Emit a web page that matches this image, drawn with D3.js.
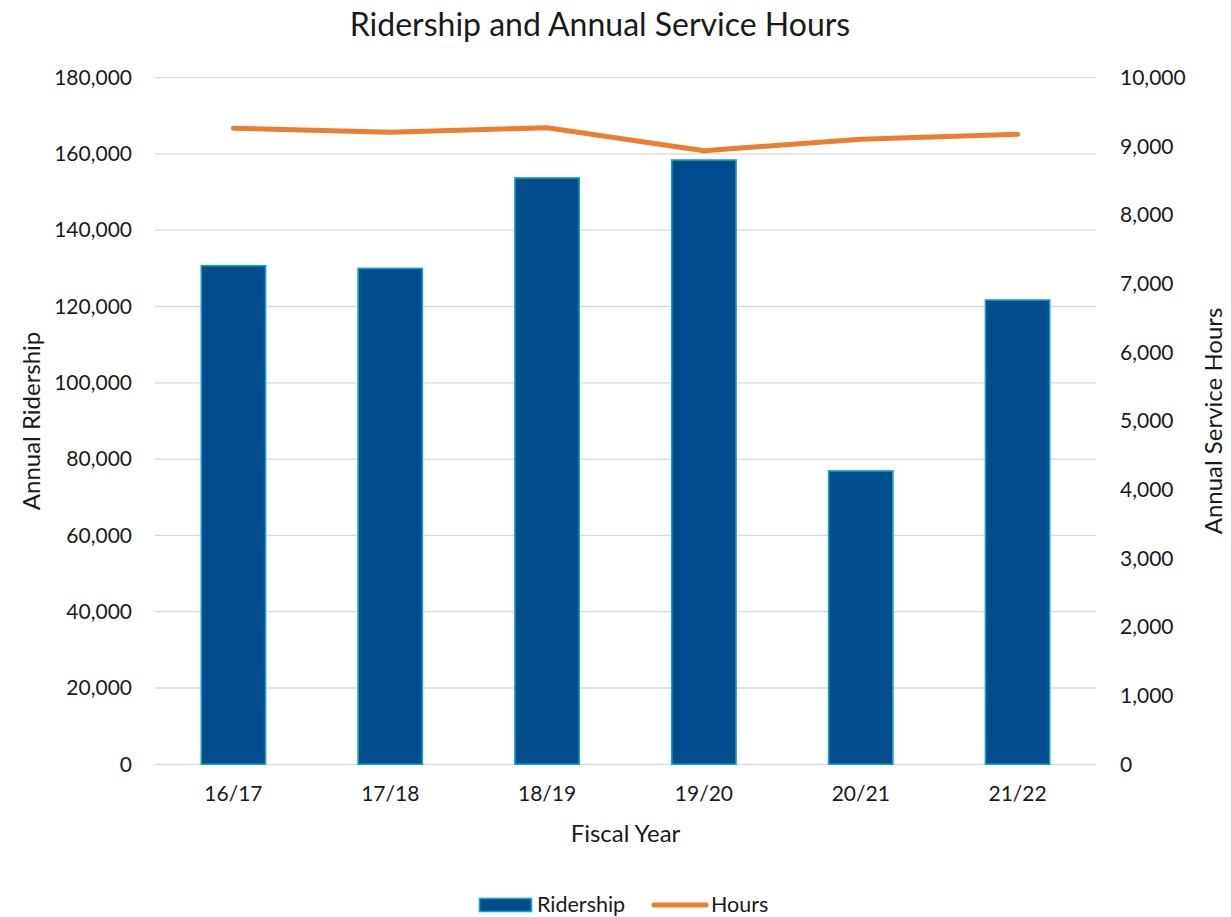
<!DOCTYPE html>
<html>
<head>
<meta charset="utf-8">
<script src="https://cdn.jsdelivr.net/npm/d3@7"></script>
<style>
  html, body { margin: 0; padding: 0; background: #fff; }
  svg text { font-family: Lato, "Open Sans", sans-serif; fill: #1a1a1a; }
</style>
</head>
<body>
<svg id="chart" width="1231" height="917"></svg>
<script>
// Fiscal years and the two series
const years = ["16/17", "17/18", "18/19", "19/20", "20/21", "21/22"];
const ridership = [130700, 130000, 153700, 158400, 76900, 121700];
const hours = [9262, 9203, 9270, 8936, 9101, 9174];

// Axis ticks
const ridershipTicks = [0, 20000, 40000, 60000, 80000, 100000, 120000, 140000, 160000, 180000];
const hoursTicks = [0, 1000, 2000, 3000, 4000, 5000, 6000, 7000, 8000, 9000, 10000];

const svg = d3.select("#chart");
const plot = { left: 155, right: 1096, top: 77.6, bottom: 764.3 };
const tickFont = 21;

const x = d3.scaleBand().domain(years).range([plot.left, plot.right]).paddingInner(0.59).paddingOuter(0.295);
const yL = d3.scaleLinear().domain([0, 180000]).range([plot.bottom, plot.top]);
const yR = d3.scaleLinear().domain([0, 10000]).range([plot.bottom, plot.top]);
const fmt = d3.format(",");

// Gridlines
svg.append("g")
  .selectAll("line")
  .data(ridershipTicks)
  .join("line")
  .attr("x1", plot.left).attr("x2", plot.right)
  .attr("y1", d => yL(d)).attr("y2", d => yL(d))
  .attr("stroke", "#d9d9d9").attr("stroke-width", 1.3);

function styleTicks(g) {
  g.select(".domain").remove();
  g.selectAll("text")
    .attr("font-size", tickFont)
    .attr("font-family", "Lato, sans-serif")
    .attr("fill", "#1a1a1a");
}

// Left axis
svg.append("g")
  .attr("transform", `translate(${plot.left},0)`)
  .call(d3.axisLeft(yL).tickValues(ridershipTicks).tickFormat(fmt).tickSize(0).tickPadding(23))
  .call(styleTicks);

// Right axis
svg.append("g")
  .attr("transform", `translate(${plot.right},0)`)
  .call(d3.axisRight(yR).tickValues(hoursTicks).tickFormat(fmt).tickSize(0).tickPadding(24))
  .call(styleTicks);

// Bottom axis
svg.append("g")
  .attr("transform", `translate(0,${plot.bottom})`)
  .call(d3.axisBottom(x).tickSize(0).tickPadding(22))
  .call(styleTicks);

// Ridership bars
svg.append("g")
  .selectAll("rect")
  .data(years.map((y, i) => ({ year: y, value: ridership[i] })))
  .join("rect")
  .attr("x", d => x(d.year))
  .attr("y", d => yL(d.value))
  .attr("width", x.bandwidth())
  .attr("height", d => yL(0) - yL(d.value))
  .attr("fill", "#004c8c")
  .attr("stroke", "#17a2c6")
  .attr("stroke-width", 1.6);

// Hours line
const line = d3.line()
  .x((d, i) => x(years[i]) + x.bandwidth() / 2)
  .y(d => yR(d));
svg.append("path")
  .datum(hours)
  .attr("d", line)
  .attr("fill", "none")
  .attr("stroke", "#ed7d31")
  .attr("stroke-width", 5)
  .attr("stroke-linecap", "round")
  .attr("stroke-linejoin", "round");

// Title
svg.append("text")
  .attr("x", 600).attr("y", 36)
  .attr("text-anchor", "middle")
  .attr("font-size", 32)
  .text("Ridership and Annual Service Hours");

// Axis titles
svg.append("text")
  .attr("transform", `translate(40,${(plot.top + plot.bottom) / 2}) rotate(-90)`)
  .attr("text-anchor", "middle")
  .attr("font-size", 24)
  .text("Annual Ridership");

svg.append("text")
  .attr("transform", `translate(1222,${(plot.top + plot.bottom) / 2}) rotate(-90)`)
  .attr("text-anchor", "middle")
  .attr("font-size", 24)
  .text("Annual Service Hours");

svg.append("text")
  .attr("x", (plot.left + plot.right) / 2).attr("y", 842)
  .attr("text-anchor", "middle")
  .attr("font-size", 24)
  .text("Fiscal Year");

// Legend
const legend = svg.append("g");
legend.append("rect")
  .attr("x", 479.5).attr("y", 898.5).attr("width", 52).attr("height", 13)
  .attr("fill", "#004c8c").attr("stroke", "#17a2c6").attr("stroke-width", 1.6);
legend.append("text")
  .attr("x", 537).attr("y", 912).attr("font-size", 21.5).text("Ridership");
legend.append("line")
  .attr("x1", 654).attr("x2", 706).attr("y1", 905).attr("y2", 905)
  .attr("stroke", "#ed7d31").attr("stroke-width", 5).attr("stroke-linecap", "round");
legend.append("text")
  .attr("x", 711).attr("y", 912).attr("font-size", 21.5).text("Hours");
</script>
</body>
</html>
